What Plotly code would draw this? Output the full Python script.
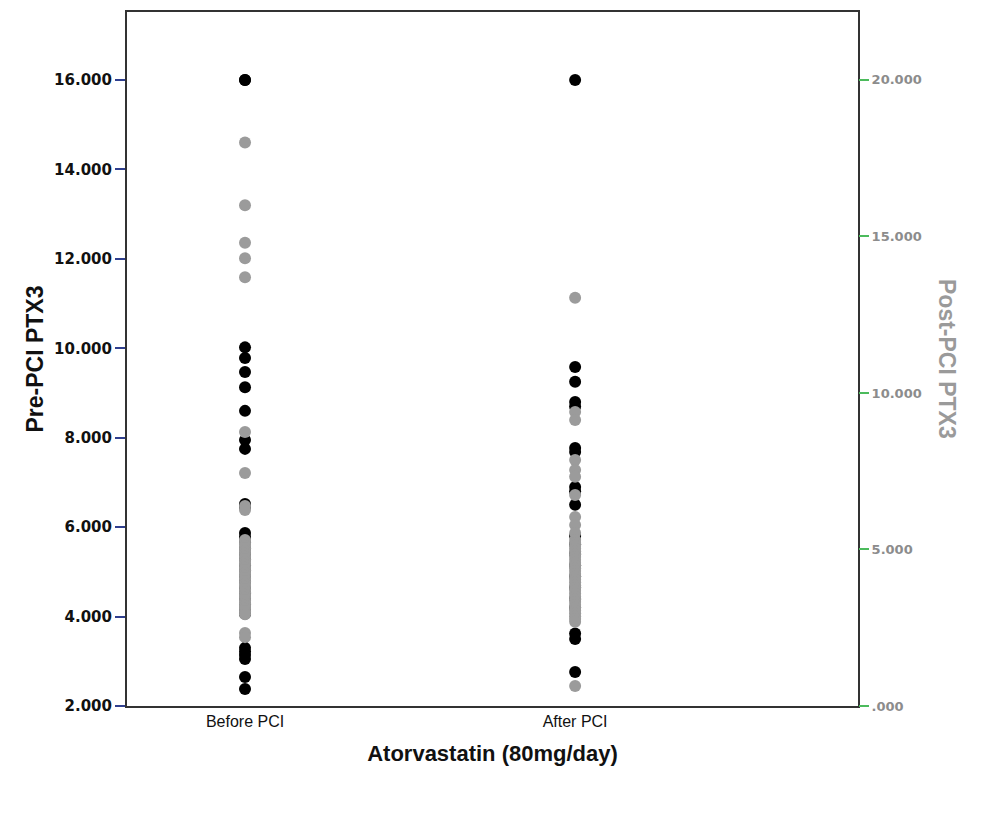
import plotly.graph_objects as go

# Categories on the x axis
categories = ["Before PCI", "After PCI"]
cat_pos = [1, 2]

# Pre-PCI PTX3 (left axis, black)
pre_before = [16.0, 16.0, 10.02, 9.78, 9.47, 9.13, 8.60, 7.95, 7.75, 6.52, 6.45,
              5.87, 5.78, 5.66, 5.52, 5.40, 5.28, 5.15, 5.03, 4.91, 4.78, 4.64,
              4.52, 4.40, 4.27, 4.15, 4.06, 3.30, 3.22, 3.14, 3.05, 2.65, 2.38]
pre_after = [16.0, 9.58, 9.25, 8.80, 8.70, 7.77, 7.68, 6.90, 6.80, 6.50, 5.80,
             5.62, 5.40, 5.15, 4.90, 4.65, 4.40, 4.20, 3.62, 3.50, 2.76]

# Post-PCI PTX3 (right axis, grey)
post_before = [18.0, 16.0, 14.8, 14.3, 13.7, 8.75, 7.44, 6.39, 6.26,
               5.30, 5.21, 5.12, 5.03, 4.95, 4.86, 4.77, 4.68, 4.60, 4.51,
               4.42, 4.33, 4.25, 4.16, 4.07, 3.98, 3.90, 3.81, 3.72, 3.63,
               3.55, 3.46, 3.37, 3.28, 3.20, 3.11, 3.02, 2.93, 2.33, 2.20]
post_after = [13.04, 9.39, 9.14, 7.86, 7.54, 7.32, 6.74, 6.04, 5.78, 5.53,
              5.30, 5.21, 5.12, 5.03, 4.94, 4.85, 4.76, 4.67, 4.58, 4.49,
              4.40, 4.31, 4.22, 4.13, 4.04, 3.95, 3.86, 3.77, 3.68, 3.59,
              3.50, 3.41, 3.32, 3.23, 3.14, 3.05, 2.96, 2.87, 2.78, 2.69, 0.64]

# Tick labels
left_ticks = [2, 4, 6, 8, 10, 12, 14, 16]
left_ticktext = ["2.000", "4.000", "6.000", "8.000", "10.000", "12.000", "14.000", "16.000"]
right_ticks = [0, 5, 10, 15, 20]
right_ticktext = [".000", "5.000", "10.000", "15.000", "20.000"]

BLACK = "#000000"
GREY = "#9b9b9b"

fig = go.Figure()

fig.add_trace(go.Scatter(
    x=[cat_pos[0]] * len(pre_before) + [cat_pos[1]] * len(pre_after),
    y=pre_before + pre_after,
    mode="markers", marker=dict(color=BLACK, size=12),
    yaxis="y", showlegend=False, name="Pre-PCI PTX3"))

fig.add_trace(go.Scatter(
    x=[cat_pos[0]] * len(post_before) + [cat_pos[1]] * len(post_after),
    y=post_before + post_after,
    mode="markers", marker=dict(color=GREY, size=12),
    yaxis="y2", showlegend=False, name="Post-PCI PTX3"))

fig.update_layout(
    width=1000, height=821,
    paper_bgcolor="white", plot_bgcolor="white",
    margin=dict(l=119, r=150, t=4, b=123, autoexpand=False),
    font=dict(family="Liberation Sans, Arial, sans-serif", color="black"),
    xaxis=dict(
        range=[0.6425, 2.857], tickvals=cat_pos, ticktext=categories,
        showgrid=False, zeroline=False, showline=True, linecolor="#333333",
        linewidth=2, mirror=True, ticks="", ticklen=0,
        tickfont=dict(size=16, family="Liberation Sans, Arial", color="#111111"),
        title=dict(text="Atorvastatin (80mg/day)", standoff=16,
                   font=dict(size=22, family="Liberation Sans, Arial", weight="bold", color="#111111")),
    ),
    yaxis=dict(
        range=[2, 17.52], tickvals=left_ticks, ticktext=left_ticktext,
        showgrid=False, zeroline=False, showline=True, linecolor="#333333",
        linewidth=2, mirror=True, ticks="outside", ticklen=10, tickwidth=1.5,
        tickcolor="#2f3f8f",
        tickfont=dict(size=15, family="DejaVu Sans", weight="bold", color="#111111"),
        title=dict(text="Pre-PCI PTX3", standoff=4,
                   font=dict(size=23, family="Liberation Sans, Arial", weight="bold", color="#111111")),
    ),
    yaxis2=dict(
        range=[0, 22.17], tickvals=right_ticks, ticktext=right_ticktext,
        overlaying="y", side="right", anchor="x",
        showgrid=False, zeroline=False, showline=False,
        ticks="outside", ticklen=10, tickwidth=1.5, tickcolor="#4cbb5c",
        tickfont=dict(size=13, family="DejaVu Sans", weight="bold", color="#8c8c8c"),
    ),
    annotations=[dict(
        text="Post-PCI PTX3", textangle=90, xref="paper", yref="paper",
        x=1.0, xanchor="center", yanchor="middle", xshift=89, y=0.5, showarrow=False,
        font=dict(size=23, family="Liberation Sans, Arial", weight="bold", color="#9a9a9a"),
    )],
)

fig.write_html("out.html")
